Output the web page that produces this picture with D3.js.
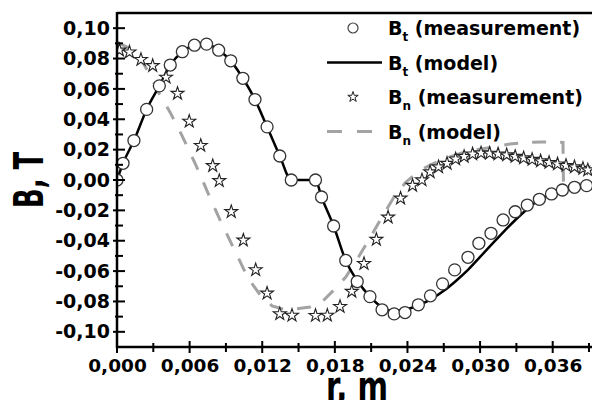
<!DOCTYPE html>
<html>
<head>
<meta charset="utf-8">
<script src="https://cdn.jsdelivr.net/npm/d3@7"></script>
<style>
  body { margin: 0; background: #fff; }
  text { font-family: "DejaVu Sans", sans-serif; font-weight: bold; fill: #000; }
</style>
</head>
<body>
<svg id="chart" width="592" height="400"></svg>
<script>
// Bt measurement (circles)
const rBtMeas = [0, 0.0005, 0.0014, 0.00245, 0.0035, 0.0044, 0.0054, 0.0064, 0.0074, 0.0084,
  0.0094, 0.0104, 0.0114, 0.0124, 0.01345, 0.0144, 0.0164, 0.0169, 0.0179, 0.0189,
  0.01985, 0.0209, 0.0219, 0.0229, 0.0238, 0.0249, 0.0259, 0.0269, 0.0279, 0.0290,
  0.0299, 0.0309, 0.0319, 0.0329, 0.0339, 0.0349, 0.0359, 0.0368, 0.0378, 0.0388];
const btMeas = [0, 0.011, 0.026, 0.0465, 0.062, 0.0757, 0.0845, 0.0888, 0.0895, 0.0855,
  0.0785, 0.067, 0.053, 0.035, 0.0158, 0, 0, -0.0112, -0.0303, -0.053,
  -0.0669, -0.0768, -0.0855, -0.0882, -0.0873, -0.0822, -0.0763, -0.0684, -0.0592, -0.0509,
  -0.0417, -0.0351, -0.0263, -0.0209, -0.0165, -0.0127, -0.0092, -0.0066, -0.0048, -0.0037];

// Bt model (solid line)
const rBtModel = [0, 0.0005, 0.0014, 0.00245, 0.0035, 0.0044, 0.0054, 0.0064, 0.0074, 0.0084,
  0.0094, 0.0104, 0.0114, 0.0124, 0.01345, 0.0144, 0.0164, 0.0169, 0.0179, 0.0189,
  0.0199, 0.0209, 0.0219, 0.0229, 0.0240, 0.0250, 0.0260, 0.0270, 0.0280, 0.0290,
  0.0300, 0.0310, 0.0320, 0.0330, 0.0340, 0.0350, 0.0360, 0.0370, 0.0380, 0.0390];
const btModel = [0, 0.011, 0.026, 0.0465, 0.062, 0.0757, 0.0845, 0.0888, 0.0895, 0.0855,
  0.0785, 0.067, 0.053, 0.035, 0.0158, 0, 0, -0.0112, -0.0303, -0.053,
  -0.0669, -0.0768, -0.0838, -0.0862, -0.0850, -0.0822, -0.0783, -0.073, -0.0665, -0.0592,
  -0.0507, -0.0421, -0.0336, -0.0257, -0.0184, -0.0125, -0.0089, -0.0066, -0.0049, -0.0039];

// Bn measurement (stars)
const rBnMeas = [0.0002, 0.00103, 0.00198, 0.00295, 0.00405, 0.0050, 0.00597, 0.00692, 0.00791, 0.00845,
  0.00944, 0.01044, 0.01146, 0.0124, 0.01345, 0.01446, 0.0164, 0.01738, 0.01843, 0.0194,
  0.02041, 0.02143, 0.0224, 0.02343, 0.02442, 0.0252, 0.02587, 0.02657, 0.02727, 0.02798,
  0.02868, 0.02938, 0.03008, 0.03079, 0.03149, 0.0322, 0.0329, 0.0336, 0.0343, 0.035,
  0.0357, 0.0364, 0.0371, 0.0378, 0.0385, 0.0389];
const bnMeas = [0.0855, 0.0842, 0.0793, 0.0753, 0.0676, 0.057, 0.0386, 0.0227, 0.0094, -0.0005,
  -0.0209, -0.0397, -0.0592, -0.0746, -0.0882, -0.0892, -0.0893, -0.0892, -0.0834, -0.0734,
  -0.0551, -0.0392, -0.0245, -0.012, -0.0036, 0, 0.0053, 0.0086, 0.0109, 0.0138,
  0.0155, 0.0171, 0.0178, 0.0176, 0.0171, 0.0165, 0.0155, 0.0145, 0.0135, 0.0125,
  0.0115, 0.0105, 0.0095, 0.0086, 0.0076, 0.0066];

// Bn model (dashed grey line)
const rBnModel = [0, 0.00099, 0.00198, 0.00273, 0.00355, 0.00438, 0.00535, 0.00644, 0.00752, 0.00851,
  0.00967, 0.01082, 0.01182, 0.01281, 0.0138, 0.01479, 0.01595, 0.01694, 0.01793, 0.01892,
  0.01991, 0.0209, 0.0219, 0.02289, 0.02388, 0.02487, 0.02586, 0.02718, 0.0285, 0.02983,
  0.03115, 0.03247, 0.03379, 0.03512, 0.03627, 0.03685, 0.03689, 0.0392];
const bnModel = [0.0908, 0.0869, 0.0796, 0.0691, 0.0559, 0.0447, 0.0296, 0.0112, -0.0086, -0.0263,
  -0.0454, -0.0645, -0.0757, -0.0829, -0.0852, -0.0849, -0.0836, -0.0803, -0.0724, -0.0638,
  -0.0513, -0.0382, -0.0243, -0.0112, -0.0013, 0.0053, 0.0099, 0.0145, 0.0178, 0.0201,
  0.0217, 0.0237, 0.0247, 0.025, 0.025, 0.0247, -0.0026, -0.0026];

// axes
const xTicks = [0, 0.006, 0.012, 0.018, 0.024, 0.030, 0.036];
const xMinor = [0.003, 0.009, 0.015, 0.021, 0.027, 0.033, 0.039];
const yTicks = [-0.10, -0.08, -0.06, -0.04, -0.02, 0, 0.02, 0.04, 0.06, 0.08, 0.10];
const yMinor = [-0.09, -0.07, -0.05, -0.03, -0.01, 0.01, 0.03, 0.05, 0.07, 0.09];

const legendItems = ['measurement', 'model', 'measurement', 'model'];
const legendSubs = ['t', 't', 'n', 'n'];

const svg = d3.select('#chart');
const pLeft = 117, pRight = 589, pTop = 13, pBottom = 347;

const x = d3.scaleLinear().domain([0, 0.039]).range([pLeft, pRight]);
const y = d3.scaleLinear().domain([-0.11, 0.11]).range([pBottom, pTop]);

const pts = (rs, vs) => rs.map((r, i) => [r, vs[i]]);

svg.append('defs').append('clipPath').attr('id', 'plot')
  .append('rect').attr('x', pLeft).attr('y', pTop).attr('width', 592 - pLeft).attr('height', pBottom - pTop);

const plot = svg.append('g').attr('clip-path', 'url(#plot)');

// Bn model
plot.append('path')
  .datum(pts(rBnModel, bnModel))
  .attr('d', d3.line().x(d => x(d[0])).y(d => y(d[1])))
  .attr('fill', 'none')
  .attr('stroke', '#a3a3a3')
  .attr('stroke-width', 3)
  .attr('stroke-dasharray', '14,14');

// Bt model
plot.append('path')
  .datum(pts(rBtModel, btModel))
  .attr('d', d3.line().x(d => x(d[0])).y(d => y(d[1])).curve(d3.curveMonotoneX))
  .attr('fill', 'none')
  .attr('stroke', '#000')
  .attr('stroke-width', 2.5);

// Bn stars
const star = d3.symbol().type(d3.symbolStar).size(52);
plot.selectAll('.star')
  .data(pts(rBnMeas, bnMeas))
  .enter().append('path')
  .attr('class', 'star')
  .attr('d', star)
  .attr('transform', d => `translate(${x(d[0])},${y(d[1])})`)
  .attr('fill', '#fff')
  .attr('stroke', '#222')
  .attr('stroke-width', 1.1);

// Bt circles
plot.selectAll('.circ')
  .data(pts(rBtMeas, btMeas))
  .enter().append('circle')
  .attr('class', 'circ')
  .attr('cx', d => x(d[0]))
  .attr('cy', d => y(d[1]))
  .attr('r', 6)
  .attr('fill', '#fff')
  .attr('stroke', '#333')
  .attr('stroke-width', 1.3);

// frame lines
svg.append('line').attr('x1', pLeft).attr('x2', 592).attr('y1', pTop).attr('y2', pTop)
  .attr('stroke', '#000').attr('stroke-width', 2.5);
svg.append('line').attr('x1', pLeft).attr('x2', 592).attr('y1', pBottom).attr('y2', pBottom)
  .attr('stroke', '#000').attr('stroke-width', 2.5);
svg.append('line').attr('x1', pLeft).attr('x2', pLeft).attr('y1', pTop - 1).attr('y2', pBottom + 1)
  .attr('stroke', '#000').attr('stroke-width', 2.5);

// tick marks
const tickG = svg.append('g').attr('stroke', '#000').attr('stroke-width', 2);
tickG.selectAll('.ym').data(yTicks).enter().append('line')
  .attr('x1', pLeft - 4).attr('x2', pLeft + 8).attr('y1', d => y(d)).attr('y2', d => y(d));
tickG.selectAll('.yn').data(yMinor).enter().append('line')
  .attr('x1', pLeft - 2).attr('x2', pLeft + 6).attr('y1', d => y(d)).attr('y2', d => y(d));
tickG.selectAll('.xm').data(xTicks).enter().append('line')
  .attr('y1', pBottom - 6).attr('y2', pBottom + 6).attr('x1', d => x(d)).attr('x2', d => x(d));
tickG.selectAll('.xn').data(xMinor).enter().append('line')
  .attr('y1', pBottom - 4).attr('y2', pBottom + 5).attr('x1', d => x(d)).attr('x2', d => x(d));

// tick labels
const fmt = p => d => d3.format('.' + p + 'f')(d).replace('.', ',').replace('\u2212', '-');
const yAxis = svg.append('g').attr('transform', `translate(${pLeft},0)`)
  .call(d3.axisLeft(y).tickValues(yTicks).tickFormat(fmt(2)).tickSize(0).tickPadding(7));
const xAxis = svg.append('g').attr('transform', `translate(0,${pBottom})`)
  .call(d3.axisBottom(x).tickValues(xTicks).tickFormat(fmt(3)).tickSize(0).tickPadding(12));
[yAxis, xAxis].forEach(g => {
  g.select('.domain').remove();
  g.selectAll('text').attr('font-family', 'DejaVu Sans').attr('font-weight', 'bold').attr('fill', '#000');
});
yAxis.selectAll('text').attr('font-size', 19);
xAxis.selectAll('text').attr('font-size', 18.5);

// axis titles
svg.append('text')
  .attr('transform', 'translate(43,180) rotate(-90)')
  .attr('text-anchor', 'middle')
  .attr('font-family', 'Liberation Sans').attr('font-size', 40)
  .attr('textLength', 56).attr('lengthAdjust', 'spacingAndGlyphs')
  .text('B, T');
svg.append('text')
  .attr('x', 357).attr('y', 400)
  .attr('text-anchor', 'middle')
  .attr('font-family', 'Liberation Sans').attr('font-size', 40)
  .attr('textLength', 62).attr('lengthAdjust', 'spacingAndGlyphs')
  .text('r, m');

// legend
const legend = svg.append('g');
legendItems.forEach((name, i) => {
  const base = 35 + i * 34.5;
  const cy = base - 7;
  if (i === 0) {
    legend.append('circle').attr('cx', 353).attr('cy', cy).attr('r', 5)
      .attr('fill', '#fff').attr('stroke', '#444').attr('stroke-width', 1.2);
  } else if (i === 1) {
    legend.append('line').attr('x1', 327).attr('x2', 382).attr('y1', cy).attr('y2', cy)
      .attr('stroke', '#000').attr('stroke-width', 2.5);
  } else if (i === 2) {
    legend.append('path').attr('d', d3.symbol().type(d3.symbolStar).size(34))
      .attr('transform', `translate(353,${cy})`)
      .attr('fill', '#fff').attr('stroke', '#222').attr('stroke-width', 1);
  } else {
    legend.append('line').attr('x1', 327).attr('x2', 382).attr('y1', cy).attr('y2', cy)
      .attr('stroke', '#a3a3a3').attr('stroke-width', 3).attr('stroke-dasharray', '15,15');
  }
  const t = legend.append('text').attr('x', 388).attr('y', base).attr('font-size', 19);
  t.append('tspan').text('B');
  t.append('tspan').attr('font-size', 12).attr('dy', 6).text(legendSubs[i]);
  t.append('tspan').attr('dy', -6).text(' (' + name + ')');
});
</script>
</body>
</html>
